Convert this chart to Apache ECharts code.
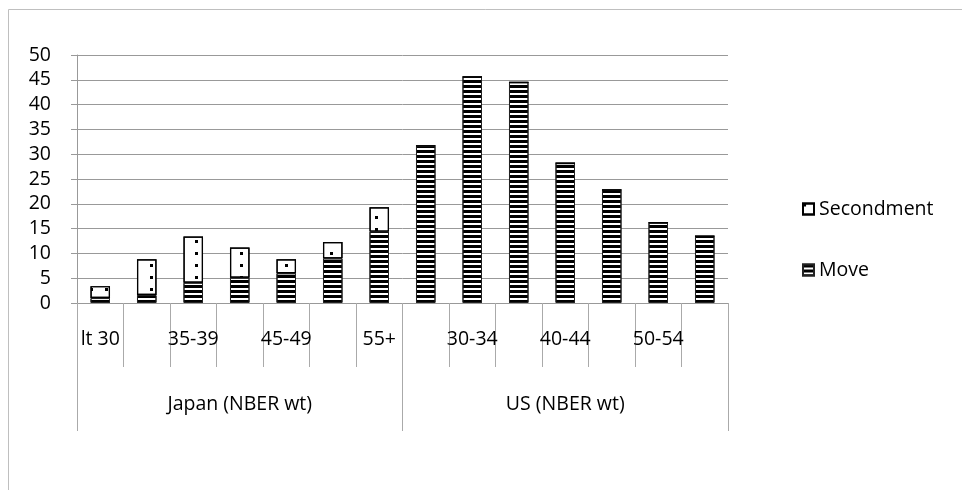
<!DOCTYPE html>
<html>
<head>
<meta charset="utf-8">
<script src="https://cdn.jsdelivr.net/npm/echarts@6/dist/echarts.min.js"></script>
<style>html,body{margin:0;padding:0;background:#fff;}#c{width:962px;height:490px;}</style>
</head>
<body>
<div id="c"></div>
<script>
// ---- data ----
var ageGroups = ['lt 30', '30-34', '35-39', '40-44', '45-49', '50-54', '55+'];
var countries = ['Japan (NBER wt)', 'US (NBER wt)'];
var japanMove = [1.0, 1.6, 4.1, 5.1, 6.0, 9.0, 14.4];
var usMove = [31.7, 45.6, 44.5, 28.2, 22.8, 16.2, 13.5];
var japanSecondment = [2.4, 7.2, 9.3, 6.1, 2.8, 3.3, 4.9];
var usSecondment = [0, 0, 0, 0, 0, 0, 0];
var yTicks = [0, 5, 10, 15, 20, 25, 30, 35, 40, 45, 50];

var categories = ageGroups.concat(ageGroups);
var moveData = japanMove.concat(usMove);
var secondmentData = japanSecondment.concat(usSecondment);

var FONT = 'Open Sans';
var FS = 19.5;
var chart = echarts.init(document.getElementById('c'), null, {renderer: 'canvas'});
chart.setOption({
  animation: false,
  backgroundColor: '#fff',
  aria: {enabled: true, decal: {show: true}},
  textStyle: {fontFamily: FONT, color: '#000'},
  graphic: [{
    type: 'rect', left: 6, top: 7, silent: true,
    shape: {width: 1000, height: 1000},
    style: {fill: 'none', stroke: '#bfbfbf', lineWidth: 1}
  }],
  legend: {
    orient: 'vertical', left: 797, top: 194, itemGap: 41,
    itemWidth: 11, itemHeight: 11, icon: 'rect',
    textStyle: {fontFamily: FONT, fontSize: FS, color: '#000'},
    data: ['Secondment', 'Move']
  },
  grid: {left: 77, right: 234, top: 55, bottom: 187, containLabel: false},
  xAxis: [{
    type: 'category', data: categories, position: 'bottom',
    axisLine: {show: true, lineStyle: {color: '#999', width: 1}},
    axisTick: {show: true, interval: 0, length: 64, lineStyle: {color: '#aaa'}},
    axisLabel: {interval: 1, margin: 26, fontFamily: FONT, fontSize: FS, color: '#000'}
  }, {
    type: 'category', data: countries, position: 'bottom',
    axisLine: {show: false},
    axisTick: {show: true, interval: 0, length: 128, lineStyle: {color: '#aaa'}},
    axisLabel: {margin: 91, fontFamily: FONT, fontSize: FS, color: '#000'}
  }],
  yAxis: {
    type: 'value', min: 0, max: 50, interval: 5,
    axisLine: {show: true, lineStyle: {color: '#999'}},
    axisTick: {show: true, length: 6, lineStyle: {color: '#999'}},
    axisLabel: {margin: 26, fontFamily: FONT, fontSize: FS, color: '#000',
      formatter: function (v) { return yTicks.indexOf(v) >= 0 ? String(v) : ''; }},
    splitLine: {show: true, lineStyle: {color: '#999', width: 1}}
  },
  series: [{
    name: 'Move', type: 'bar', stack: 'a', xAxisIndex: 0,
    barCategoryGap: '58%',
    data: moveData,
    itemStyle: {
      color: '#fff', borderColor: '#222', borderWidth: 1,
      decal: {symbol: 'rect', symbolSize: 1, color: '#000', dashArrayX: [10, 0], dashArrayY: [3, 2], rotation: 0}
    }
  }, {
    name: 'Secondment', type: 'bar', stack: 'a', xAxisIndex: 0,
    barCategoryGap: '58%',
    data: secondmentData,
    itemStyle: {
      color: '#fff', borderColor: '#000', borderWidth: 1.2,
      decal: {symbol: 'rect', symbolSize: 1, color: '#000', dashArrayX: [3, 12], dashArrayY: [3, 9], rotation: 0}
    }
  }]
});
</script>
</body>
</html>
